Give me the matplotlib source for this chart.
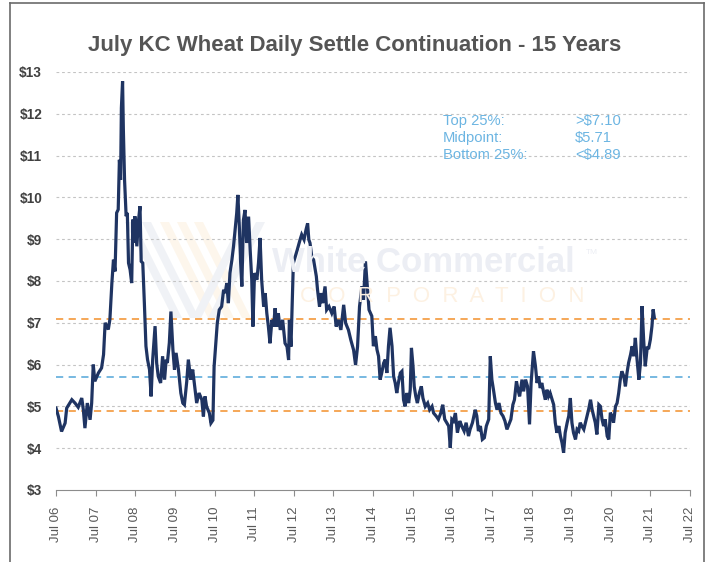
import matplotlib.pyplot as plt
from matplotlib.patches import Polygon
from matplotlib.lines import Line2D

plt.rcParams['font.family'] = ['Liberation Sans', 'DejaVu Sans']

# ---- data (decimal year, settle price $/bu) ----
years = [
    2006.50, 2006.56, 2006.64, 2006.73, 2006.77, 2006.90, 2006.98, 2007.06, 2007.15, 2007.19,
    2007.23, 2007.29, 2007.36, 2007.40, 2007.44, 2007.48, 2007.57, 2007.65, 2007.70, 2007.74,
    2007.82, 2007.86, 2007.91, 2007.95, 2007.99, 2008.03, 2008.07, 2008.10, 2008.13, 2008.15,
    2008.18, 2008.20, 2008.23, 2008.27, 2008.30, 2008.33, 2008.37, 2008.41, 2008.44, 2008.47,
    2008.49, 2008.54, 2008.58, 2008.62, 2008.65, 2008.69, 2008.73, 2008.77, 2008.81, 2008.86,
    2008.90, 2008.94, 2009.00, 2009.04, 2009.08, 2009.14, 2009.19, 2009.24, 2009.28, 2009.31,
    2009.36, 2009.40, 2009.45, 2009.49, 2009.53, 2009.59, 2009.65, 2009.70, 2009.74, 2009.80,
    2009.84, 2009.90, 2009.95, 2010.01, 2010.05, 2010.11, 2010.18, 2010.22, 2010.26, 2010.30,
    2010.37, 2010.41, 2010.46, 2010.49, 2010.54, 2010.57, 2010.62, 2010.68, 2010.73, 2010.77,
    2010.81, 2010.85, 2010.89, 2010.94, 2010.98, 2011.02, 2011.06, 2011.09, 2011.13, 2011.16,
    2011.19, 2011.23, 2011.27, 2011.31, 2011.36, 2011.40, 2011.44, 2011.47, 2011.51, 2011.57,
    2011.61, 2011.65, 2011.69, 2011.74, 2011.78, 2011.82, 2011.86, 2011.90, 2011.95, 2011.99,
    2012.03, 2012.07, 2012.11, 2012.16, 2012.22, 2012.28, 2012.33, 2012.37, 2012.39, 2012.43,
    2012.46, 2012.49, 2012.54, 2012.59, 2012.66, 2012.70, 2012.76, 2012.81, 2012.85, 2012.88,
    2012.91, 2012.96, 2013.00, 2013.07, 2013.10, 2013.15, 2013.19, 2013.23, 2013.29, 2013.33,
    2013.39, 2013.46, 2013.52, 2013.57, 2013.63, 2013.69, 2013.76, 2013.81, 2013.88, 2013.94,
    2014.01, 2014.06, 2014.11, 2014.16, 2014.22, 2014.26, 2014.31, 2014.35, 2014.40, 2014.47,
    2014.51, 2014.56, 2014.60, 2014.64, 2014.68, 2014.72, 2014.77, 2014.81, 2014.85, 2014.89,
    2014.93, 2014.98, 2015.02, 2015.06, 2015.10, 2015.14, 2015.19, 2015.23, 2015.27, 2015.31,
    2015.35, 2015.40, 2015.44, 2015.47, 2015.51, 2015.54, 2015.58, 2015.62, 2015.67, 2015.72,
    2015.76, 2015.82, 2015.88, 2015.93, 2015.99, 2016.03, 2016.10, 2016.15, 2016.21, 2016.26,
    2016.31, 2016.36, 2016.41, 2016.45, 2016.49, 2016.53, 2016.58, 2016.63, 2016.69, 2016.74,
    2016.80, 2016.85, 2016.91, 2016.95, 2017.01, 2017.08, 2017.12, 2017.16, 2017.21, 2017.26,
    2017.31, 2017.36, 2017.42, 2017.46, 2017.50, 2017.54, 2017.59, 2017.63, 2017.68, 2017.73,
    2017.78, 2017.83, 2017.88, 2017.93, 2017.98, 2018.03, 2018.07, 2018.12, 2018.16, 2018.20,
    2018.26, 2018.30, 2018.35, 2018.40, 2018.45, 2018.49, 2018.55, 2018.60, 2018.64, 2018.68,
    2018.72, 2018.76, 2018.81, 2018.85, 2018.89, 2018.93, 2018.97, 2019.02, 2019.06, 2019.10,
    2019.14, 2019.19, 2019.23, 2019.27, 2019.31, 2019.35, 2019.40, 2019.44, 2019.48, 2019.52,
    2019.56, 2019.61, 2019.65, 2019.69, 2019.73, 2019.77, 2019.82, 2019.86, 2019.90, 2019.94,
    2019.99, 2020.03, 2020.07, 2020.11, 2020.15, 2020.20, 2020.24, 2020.28, 2020.32, 2020.36,
    2020.41, 2020.45, 2020.49, 2020.53, 2020.57, 2020.62, 2020.66, 2020.70, 2020.74, 2020.78,
    2020.83, 2020.87, 2020.91, 2020.95, 2021.00, 2021.04, 2021.08, 2021.12, 2021.16, 2021.21,
    2021.25, 2021.29, 2021.33, 2021.37, 2021.42, 2021.46, 2021.50, 2021.54, 2021.57, 2021.60,
]
settle = [
    4.96, 4.76, 4.40, 4.60, 4.96, 5.16, 5.08, 4.98, 5.20, 4.92,
    4.48, 5.08, 4.68, 5.08, 6.00, 5.60, 5.80, 5.92, 6.24, 7.00,
    6.84, 7.08, 7.95, 8.51, 8.23, 9.63, 9.71, 10.90, 10.42, 12.14,
    12.78, 11.62, 10.42, 9.55, 9.63, 8.43, 8.27, 7.95, 9.47, 8.91,
    9.55, 8.83, 9.43, 9.79, 8.47, 8.43, 7.47, 6.44, 6.12, 5.88,
    5.24, 6.12, 6.92, 6.04, 5.72, 5.56, 6.20, 5.64, 6.12, 6.04,
    6.52, 7.27, 6.36, 5.88, 6.28, 5.88, 5.32, 5.08, 5.04, 5.60,
    6.12, 5.64, 5.88, 5.40, 5.08, 5.32, 5.16, 4.76, 5.24, 5.00,
    4.84, 4.60, 4.67, 5.95, 6.59, 6.99, 7.31, 7.39, 7.79, 7.71,
    7.95, 7.47, 8.19, 8.51, 8.83, 9.23, 9.62, 10.06, 9.23, 8.43,
    7.87, 9.46, 9.70, 8.91, 9.54, 8.75, 8.03, 6.91, 8.19, 8.03,
    8.43, 9.03, 8.03, 7.39, 7.71, 7.23, 6.91, 6.51, 7.07, 6.91,
    7.35, 6.91, 7.23, 6.83, 7.07, 6.51, 6.43, 6.11, 7.07, 6.43,
    7.39, 8.43, 8.59, 8.75, 8.99, 9.11, 8.99, 9.23, 9.38, 8.99,
    8.91, 8.55, 8.51, 8.11, 7.79, 7.39, 7.71, 7.47, 7.87, 7.31,
    7.39, 7.23, 7.39, 6.91, 7.07, 6.83, 7.43, 6.99, 6.83, 6.59,
    6.35, 5.99, 6.43, 7.39, 7.87, 7.55, 8.47, 7.95, 7.31, 7.16,
    6.44, 6.68, 6.36, 6.20, 5.64, 5.80, 6.04, 6.12, 5.80, 6.44,
    6.88, 6.44, 5.72, 5.56, 5.32, 5.56, 5.80, 5.84, 5.16, 5.00,
    5.32, 5.08, 5.40, 6.40, 5.96, 5.48, 5.24, 5.08, 5.32, 5.48,
    5.20, 5.00, 5.08, 4.92, 5.00, 4.84, 4.76, 4.69, 4.84, 5.04,
    4.69, 4.61, 4.53, 4.01, 4.69, 4.65, 4.84, 4.37, 4.65, 4.53,
    4.41, 4.61, 4.29, 4.45, 4.61, 4.92, 4.77, 4.41, 4.53, 4.21,
    4.25, 4.53, 4.69, 6.20, 5.64, 5.40, 5.08, 4.92, 5.08, 4.84,
    4.77, 4.65, 4.45, 4.57, 4.69, 5.04, 5.16, 5.60, 5.40, 5.24,
    5.64, 5.36, 5.64, 5.48, 4.57, 5.56, 6.32, 5.96, 5.56, 5.72,
    5.44, 5.56, 5.32, 5.16, 5.40, 5.24, 5.32, 5.16, 5.04, 4.61,
    4.37, 4.53, 4.29, 4.13, 3.89, 4.37, 4.61, 4.77, 5.20, 4.61,
    4.37, 4.21, 4.45, 4.41, 4.61, 4.53, 4.45, 4.61, 4.77, 4.92,
    5.16, 4.92, 4.77, 4.61, 4.33, 5.04, 5.00, 4.69, 4.53, 4.69,
    4.29, 4.21, 4.85, 4.77, 4.61, 5.00, 5.08, 5.32, 5.64, 5.84,
    5.72, 5.48, 5.80, 6.04, 6.24, 6.44, 6.20, 6.64, 6.16, 5.64,
    6.04, 7.40, 6.60, 5.96, 6.40, 6.40, 6.60, 6.92, 7.32, 7.12,
]

top25 = 7.10
midpoint = 5.71
bottom25 = 4.89

tick_years = list(range(2006, 2023))
tick_labels = ["Jul %02d" % (y % 100) for y in tick_years]
y_ticks = list(range(3, 14))
y_labels = ["$%d" % v for v in y_ticks]

# ---- figure ----
fig = plt.figure(figsize=(7.15, 5.62), dpi=100)
ax = fig.add_axes([56 / 715, 1 - 490 / 562, 634 / 715, 418 / 562])


def fpt(px, py):
    # pixel position -> figure fraction
    return (px / 715, 1 - py / 562)


# frame around the whole chart (cut at the bottom)
for a, b in [((10, 562), (10, 3)), ((704, 562), (704, 3)), ((10, 3), (704, 3))]:
    (x0, y0), (x1, y1) = fpt(*a), fpt(*b)
    fig.add_artist(Line2D([x0, x1], [y0, y1], transform=fig.transFigure,
                          color='#6b6b6b', lw=1.2))

# watermark: faint striped logo + company name
stripe_top, stripe_bot = 222, 318
left_arm = [(125, '#f0f2f6'), (142, '#f0f2f6'), (160, '#fdf6ec'), (177, '#fdf6ec'), (194, '#fdf6ec')]
for x0, col in left_arm:
    pts = [fpt(x0, stripe_top), fpt(x0 + 9, stripe_top),
           fpt(x0 + 57, stripe_bot), fpt(x0 + 48, stripe_bot)]
    fig.add_artist(Polygon(pts, closed=True, transform=fig.transFigure,
                           facecolor=col, edgecolor='none', zorder=0))
for x0 in [240, 256]:
    pts = [fpt(x0, stripe_top), fpt(x0 + 9, stripe_top),
           fpt(x0 - 39, stripe_bot), fpt(x0 - 48, stripe_bot)]
    fig.add_artist(Polygon(pts, closed=True, transform=fig.transFigure,
                           facecolor='#f0f2f6', edgecolor='none', zorder=0))
fig.text(*fpt(272, 263), "White Commercial", fontsize=25, fontweight='bold',
         color='#eceef4', va='center', ha='left', zorder=1)
fig.text(*fpt(586, 252), "TM", fontsize=6, color='#eceef4', va='center')
fig.text(*fpt(300, 296), "C  O  R  P  O  R  A  T  I  O  N", fontsize=16,
         color='#fdf1e2', va='center', ha='left', zorder=1)

ax.set_facecolor('none')
ax.set_xlim(2006.5, 2022.5)
ax.set_ylim(3, 13)

for v in y_ticks[1:]:
    ax.axhline(v, color='#c4c4c4', lw=0.8, ls=(0, (2.5, 2.5)), zorder=1)

ax.axhline(top25, color='#f5a04a', lw=1.3, ls=(0, (4, 3)), zorder=2)
ax.axhline(bottom25, color='#f5a04a', lw=1.3, ls=(0, (4, 3)), zorder=2)
ax.axhline(midpoint, color='#6cb3de', lw=1.3, ls=(0, (4, 3)), zorder=2)

ax.plot(years, settle, color='#1f3462', lw=2.3, solid_joinstyle='miter', zorder=3)

ax.set_yticks(y_ticks)
ax.set_yticklabels(y_labels, fontsize=9.8, fontweight='bold', color='#404040')
ax.set_xticks([y + 0.5 for y in tick_years])
ax.set_xticklabels(tick_labels, rotation=90, fontsize=9.5, color='#595959')
ax.tick_params(axis='y', length=0, pad=10)
ax.tick_params(axis='x', length=4, color='#8c8c8c', pad=8)

for s in ['top', 'right', 'left']:
    ax.spines[s].set_visible(False)
ax.spines['bottom'].set_color('#8c8c8c')

# title
fig.text(*fpt(355, 45), "July KC Wheat Daily Settle Continuation - 15 Years",
         fontsize=16, fontweight='bold', color='#555555', ha='center', va='center')

# quartile notes
notes = [("Top 25%:", ">$7.10"), ("Midpoint:", "$5.71"), ("Bottom 25%:", "<$4.89")]
for i, (lab, val) in enumerate(notes):
    fig.text(*fpt(443, 121 + i * 17), lab, fontsize=10.6, color='#6cb5e2', va='center')
    fig.text(*fpt(575, 121 + i * 17), val, fontsize=10.6, color='#6cb5e2', va='center')

fig.savefig("out.png", dpi=100)
